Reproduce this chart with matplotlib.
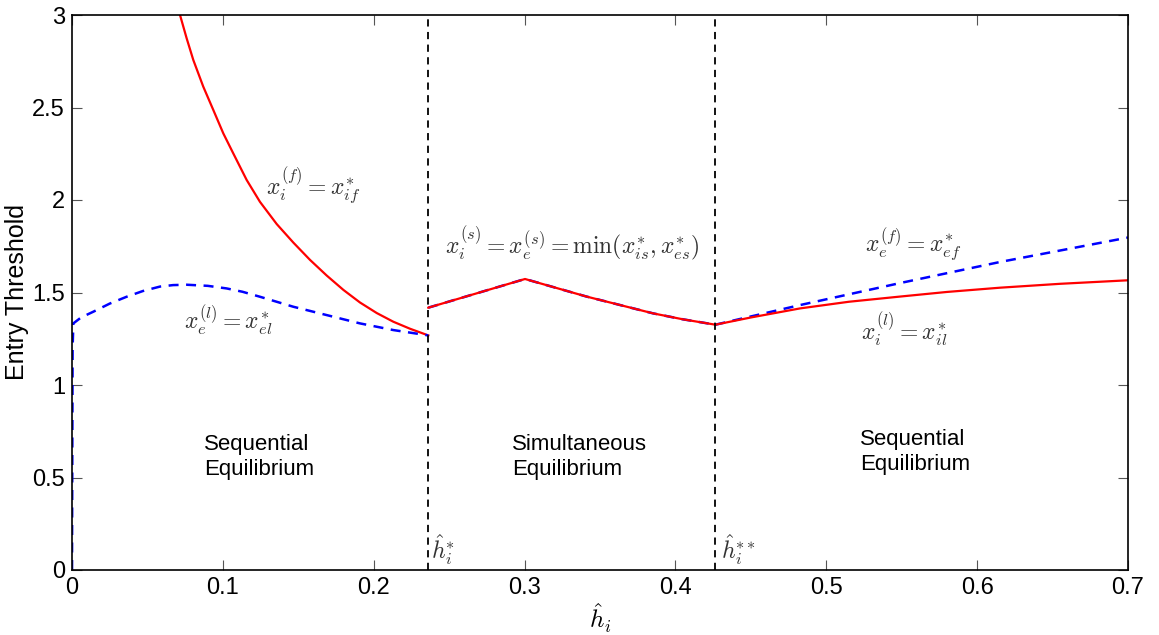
import matplotlib
matplotlib.use("Agg")
import matplotlib.pyplot as plt
import numpy as np

plt.rcParams['mathtext.fontset'] = 'cm'
plt.rcParams['font.family'] = ['Liberation Sans', 'DejaVu Sans']

# Threshold boundaries
h_star = 0.2362
h_star2 = 0.4265

# Region 1: sequential equilibrium (entrant leads)
x_el_h = [0.0, 0.0004, 0.0009, 0.006, 0.0141, 0.025, 0.0362, 0.047, 0.0583, 0.067, 0.076, 0.09,
          0.1025, 0.113, 0.1246, 0.1467, 0.1688, 0.1909, 0.213, 0.2362]
x_el_v = [0.0, 1.20, 1.333, 1.365, 1.396, 1.440, 1.477, 1.508, 1.532, 1.540, 1.542, 1.536,
          1.522, 1.504, 1.477, 1.423, 1.378, 1.333, 1.297, 1.268]

x_if_h = [0.0716, 0.076, 0.0804, 0.087, 0.0937, 0.1003, 0.1069, 0.1158, 0.1246, 0.1357,
          0.1467, 0.1578, 0.1688, 0.1799, 0.1909, 0.202, 0.213, 0.2241, 0.2362]
x_if_v = [3.0, 2.874, 2.757, 2.613, 2.486, 2.360, 2.252, 2.108, 1.990, 1.870,
          1.770, 1.676, 1.592, 1.514, 1.446, 1.389, 1.342, 1.304, 1.268]

# Region 2: simultaneous equilibrium
x_s_h = [0.2362, 0.3003, 0.3411, 0.3853, 0.405, 0.4265]
x_s_v = [1.418, 1.573, 1.478, 1.387, 1.355, 1.326]

# Region 3: sequential equilibrium (incumbent leads)
x_ef_h = [0.4265, 0.4826, 0.5489, 0.6152, 0.70]
x_ef_v = [1.326, 1.432, 1.551, 1.665, 1.797]

x_il_h = [0.4265, 0.45, 0.4826, 0.515, 0.5489, 0.58, 0.6152, 0.655, 0.70]
x_il_v = [1.326, 1.365, 1.414, 1.450, 1.478, 1.503, 1.526, 1.547, 1.566]

xticks = [0, 0.1, 0.2, 0.3, 0.4, 0.5, 0.6, 0.7]
xticklabels = ['0', '0.1', '0.2', '0.3', '0.4', '0.5', '0.6', '0.7']
yticks = [0, 0.5, 1, 1.5, 2, 2.5, 3]
yticklabels = ['0', '0.5', '1', '1.5', '2', '2.5', '3']

fig = plt.figure(figsize=(11.59, 6.35), dpi=100)
ax = fig.add_axes([72/1159, 1 - 570/635, (1128-72)/1159, (570-15)/635])

dash = (0, (4, 3))
ax.plot(x_if_h, x_if_v, color='red', lw=1.6)
ax.plot(x_el_h, x_el_v, color='blue', lw=1.8, linestyle=dash)
ax.plot(x_s_h, x_s_v, color='blue', lw=1.8, linestyle=dash)
ax.plot(x_s_h, x_s_v, color='red', lw=1.6)
ax.plot(x_ef_h, x_ef_v, color='blue', lw=1.8, linestyle=dash)
ax.plot(x_il_h, x_il_v, color='red', lw=1.6)

for hv in (h_star, h_star2):
    ax.plot([hv, hv], [0, 3], color='black', lw=1.3, linestyle=dash)

ax.set_xlim(0, 0.7)
ax.set_ylim(0, 3)
ax.set_xticks(xticks)
ax.set_xticklabels(xticklabels)
ax.set_yticks(yticks)
ax.set_yticklabels(yticklabels)
ax.tick_params(direction='in', length=7, width=0.8, top=True, right=True,
               labelsize=17, pad=5, color='#555555')
for s in ax.spines.values():
    s.set_linewidth(1.2)

ax.set_xlabel(r'$\hat{h}_i$', fontsize=18, labelpad=2)
ax.set_ylabel('Entry Threshold', fontsize=18)
ax.yaxis.set_label_coords(-0.041, 0.5)

tc = '#333333'
ms = 17
ax.text(0.1597, 2.08, r'$x_i^{(f)} = x_{if}^{*}$', fontsize=ms, color=tc, ha='center', va='center')
ax.text(0.1034, 1.35, r'$x_e^{(l)} = x_{el}^{*}$', fontsize=ms, color=tc, ha='center', va='center')
ax.text(0.3314, 1.76, r'$x_i^{(s)} = x_e^{(s)} = \min(x_{is}^{*}, x_{es}^{*})$', fontsize=ms, color=tc, ha='center', va='center')
ax.text(0.5575, 1.76, r'$x_e^{(f)} = x_{ef}^{*}$', fontsize=ms, color=tc, ha='center', va='center')
ax.text(0.552, 1.30, r'$x_i^{(l)} = x_{il}^{*}$', fontsize=ms, color=tc, ha='center', va='center')

ax.text(0.0875, 0.611, 'Sequential\nEquilibrium', fontsize=16, ha='left', va='center', linespacing=1.25)
ax.text(0.2917, 0.611, 'Simultaneous\nEquilibrium', fontsize=16, ha='left', va='center', linespacing=1.25)
ax.text(0.5223, 0.638, 'Sequential\nEquilibrium', fontsize=16, ha='left', va='center', linespacing=1.25)

ax.text(h_star + 0.0015, 0.11, r'$\hat{h}_i^{*}$', fontsize=ms, color=tc, ha='left', va='center')
ax.text(h_star2 + 0.0035, 0.11, r'$\hat{h}_i^{**}$', fontsize=ms, color=tc, ha='left', va='center')

fig.savefig('out.png', dpi=100)
